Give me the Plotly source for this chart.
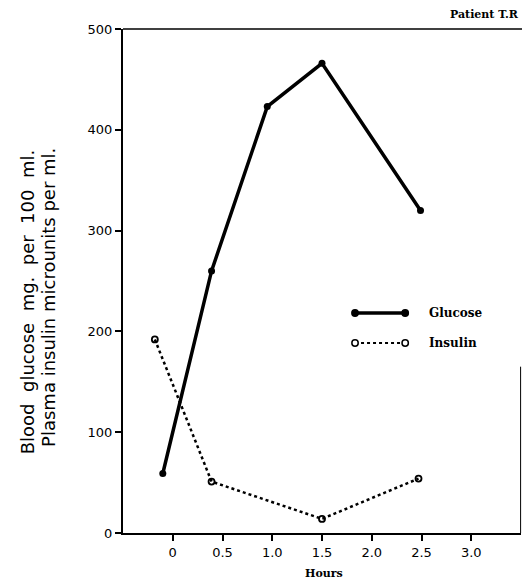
import plotly.graph_objects as go

glucose_hours = [-0.1, 0.39, 0.95, 1.5, 2.49]
glucose_values = [59, 260, 423, 466, 320]
insulin_hours = [-0.18, 0.39, 1.5, 2.47]
insulin_values = [192, 51, 14, 54]
x_tick_vals = [0, 0.5, 1.0, 1.5, 2.0, 2.5, 3.0]
x_tick_text = ["0", "0.5", "1.0", "1.5", "2.0", "2.5", "3.0"]
y_tick_vals = [0, 100, 200, 300, 400, 500]

fig = go.Figure()
fig.add_trace(go.Scatter(
    x=glucose_hours, y=glucose_values, mode="lines+markers", name="Glucose",
    line=dict(color="black", width=3.5),
    marker=dict(symbol="circle", size=7, color="black"),
    showlegend=False))
fig.add_trace(go.Scatter(
    x=insulin_hours, y=insulin_values, mode="lines+markers", name="Insulin",
    line=dict(color="black", width=2.5, dash="dot"),
    marker=dict(symbol="circle-open", size=6, color="black", line=dict(width=1.8)),
    showlegend=False))

tickfont = dict(family="DejaVu Sans", size=13, color="black")
fig.update_layout(
    width=522, height=579,
    margin=dict(l=123, r=1, t=29, b=46),
    paper_bgcolor="white", plot_bgcolor="white",
    xaxis=dict(range=[-0.5, 3.5], tickvals=x_tick_vals, ticktext=x_tick_text,
               ticks="outside", ticklen=6, tickwidth=1.5, tickcolor="black",
               showline=True, linecolor="black", linewidth=2, mirror=False,
               showgrid=False, zeroline=False, tickfont=tickfont),
    yaxis=dict(range=[0, 500], tickvals=y_tick_vals,
               ticks="outside", ticklen=6, tickwidth=1.5, tickcolor="black",
               showline=True, linecolor="black", linewidth=2,
               showgrid=False, zeroline=False, tickfont=tickfont),
)

# y-axis title as two rotated lines
titlefont = dict(family="DejaVu Sans", size=18, color="black")
fig.add_annotation(text="Blood&nbsp; glucose&nbsp; mg.&nbsp; per&nbsp; 100&nbsp; ml.",
                   xref="paper", yref="paper", x=-0.241, y=0.458, textangle=-90,
                   xanchor="center", yanchor="middle", showarrow=False, font=titlefont)
fig.add_annotation(text="Plasma insulin microunits per ml.",
                   xref="paper", yref="paper", x=-0.189, y=0.468, textangle=-90,
                   xanchor="center", yanchor="middle", showarrow=False, font=titlefont)

# top frame line and partial right edge
fig.add_shape(type="line", xref="paper", yref="paper", x0=0, x1=1.005, y0=1, y1=1,
              line=dict(color="black", width=1.5))
fig.add_shape(type="line", xref="paper", yref="paper", x0=0.999, x1=0.999, y0=0, y1=0.33,
              line=dict(color="black", width=1))

# legend drawn manually
def leg(y, dash, width, filled):
    fig.add_shape(type="line", xref="paper", yref="paper", x0=0.583, x1=0.709, y0=y, y1=y,
                  line=dict(color="black", width=width, dash=dash))
    for xc in (0.583, 0.709):
        r = 0.008
        fig.add_shape(type="circle", xref="paper", yref="paper",
                      x0=xc - r, x1=xc + r, y0=y - r * 398 / 504, y1=y + r * 398 / 504,
                      fillcolor="black" if filled else "white",
                      line=dict(color="black", width=1.5))

leg(0.4365, "solid", 3.5, True)
leg(0.377, "dot", 2, False)

serif = dict(family="DejaVu Serif", size=12, color="black")
fig.add_annotation(text="<b>Glucose</b>", xref="paper", yref="paper", x=0.764, y=0.4365,
                   xanchor="left", yanchor="middle", showarrow=False, font=serif)
fig.add_annotation(text="<b>Insulin</b>", xref="paper", yref="paper", x=0.764, y=0.377,
                   xanchor="left", yanchor="middle", showarrow=False, font=serif)
fig.add_annotation(text="<b>Patient T.R</b>", xref="paper", yref="paper", x=1.0, y=1.0,
                   xanchor="right", yanchor="bottom", yshift=6, showarrow=False,
                   font=dict(family="DejaVu Serif", size=11, color="black"))
fig.add_annotation(text="<b>Hours</b>", xref="paper", yref="paper", x=0.506, y=0,
                   xanchor="center", yanchor="top", yshift=-32, showarrow=False,
                   font=dict(family="DejaVu Serif", size=11, color="black"))

fig.write_html("out.html")
